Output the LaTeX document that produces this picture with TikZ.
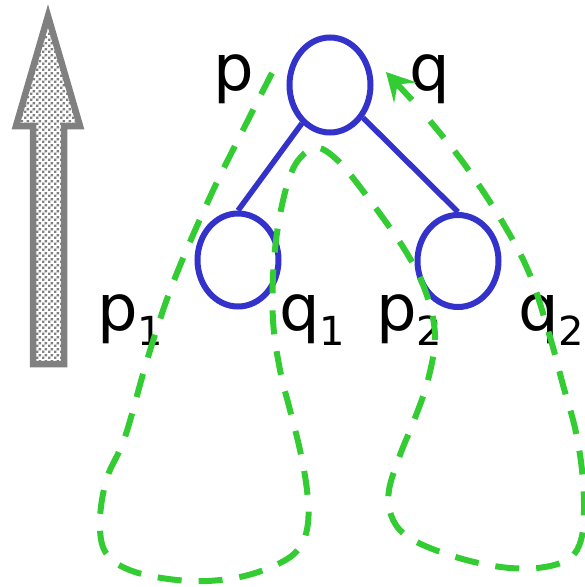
\documentclass[tikz,border=0pt]{standalone}
\usepackage{fontspec}
\setmainfont{DejaVu Sans}
\usetikzlibrary{shapes.geometric,arrows.meta,patterns}
\definecolor{treeblue}{RGB}{51,51,204}
\definecolor{pathgreen}{RGB}{51,204,51}
\definecolor{arrgray}{RGB}{128,128,128}
\pgfdeclarepatternformonly{mydots}{\pgfpointorigin}{\pgfqpoint{6pt}{6pt}}{\pgfqpoint{6pt}{6pt}}{%
  \pgfpathrectangle{\pgfqpoint{0pt}{0pt}}{\pgfqpoint{2.8pt}{2.8pt}}%
  \pgfpathrectangle{\pgfqpoint{3pt}{3pt}}{\pgfqpoint{2.8pt}{2.8pt}}%
  \pgfusepath{fill}}
\newcommand{\mainlbl}[2]{{\fontsize{64}{64}\selectfont #1}\raisebox{-15pt}{\fontsize{40}{40}\selectfont #2}}
\begin{document}
\begin{tikzpicture}[x=1pt,y=-1pt,
  treenode/.style={ellipse,draw=treeblue,line width=6pt,minimum width=81pt,minimum height=95pt,inner sep=0pt},
  treeedge/.style={draw=treeblue,line width=5.5pt},
  lbl/.style={anchor=base west,inner sep=0pt,outer sep=0pt,text=black},
  tour/.style={draw=pathgreen,line width=6pt,dash pattern=on 24pt off 17pt},
  tourhead/.style={draw=pathgreen,fill=pathgreen,line width=6pt,-{Stealth[length=28pt,width=30pt,inset=11pt]}},
  bigarrow/.style={draw=arrgray,line width=6.5pt,line join=miter,pattern=mydots,pattern color=arrgray}]
\useasboundingbox (0,0) rectangle (585,587);
% big upward arrow
\path[bigarrow] (48,16) -- (80,126) -- (64,126) -- (64,364) -- (33,364) -- (33,126) -- (16,126) -- cycle;
% tree
\node[treenode] (top) at (330,85) {};
\node[treenode,minimum height=93pt] (c1) at (238,260) {};
\node[treenode,minimum height=92pt] (c2) at (458,261) {};
\draw[treeedge] (top) -- (c1.north);
\draw[treeedge] (top) -- (c2.north);
% labels
\node[lbl] (lp) at (213,90) {\mainlbl{p}{}};
\node[lbl] (lq) at (409,90) {\mainlbl{q}{}};
\node[lbl] (lp1) at (97,330) {\mainlbl{p}{1}};
\node[lbl] (lq1) at (279,330) {\mainlbl{q}{1}};
\node[lbl] (lp2) at (376,330) {\mainlbl{p}{2}};
\node[lbl] (lq2) at (518,330) {\mainlbl{q}{2}};
% Euler tour
\coordinate (tourend) at (386,72);
\coordinate (headbase) at (412,100);
\draw[tour] plot[smooth,tension=0.6] coordinates {
 (272,73) (243,130) (210,197) (173,283) (148,357) (125,437) (107,478) (100,520) (106,553)
 (135,572) (190,581) (240,577) (280,563) (300,547) (308,523) (307,490) (300,450) (290,410)
 (280,370) (273,320) (274,260) (282,205) (295,165) (315,148) (335,158) (360,187) (403,247)
 (425,290) (435,335) (428,380) (415,418) (400,455) (389,490) (391,515) (404,534) (430,548)
 (470,561) (510,568) (545,567) (570,558) (581,540) (584,510) (582,470) (575,428) (563,385)
 (550,337) (530,275) (503,223) (465,165) (430,121)};
\draw[tourhead] (headbase) -- (tourend);
\end{tikzpicture}
\end{document}
